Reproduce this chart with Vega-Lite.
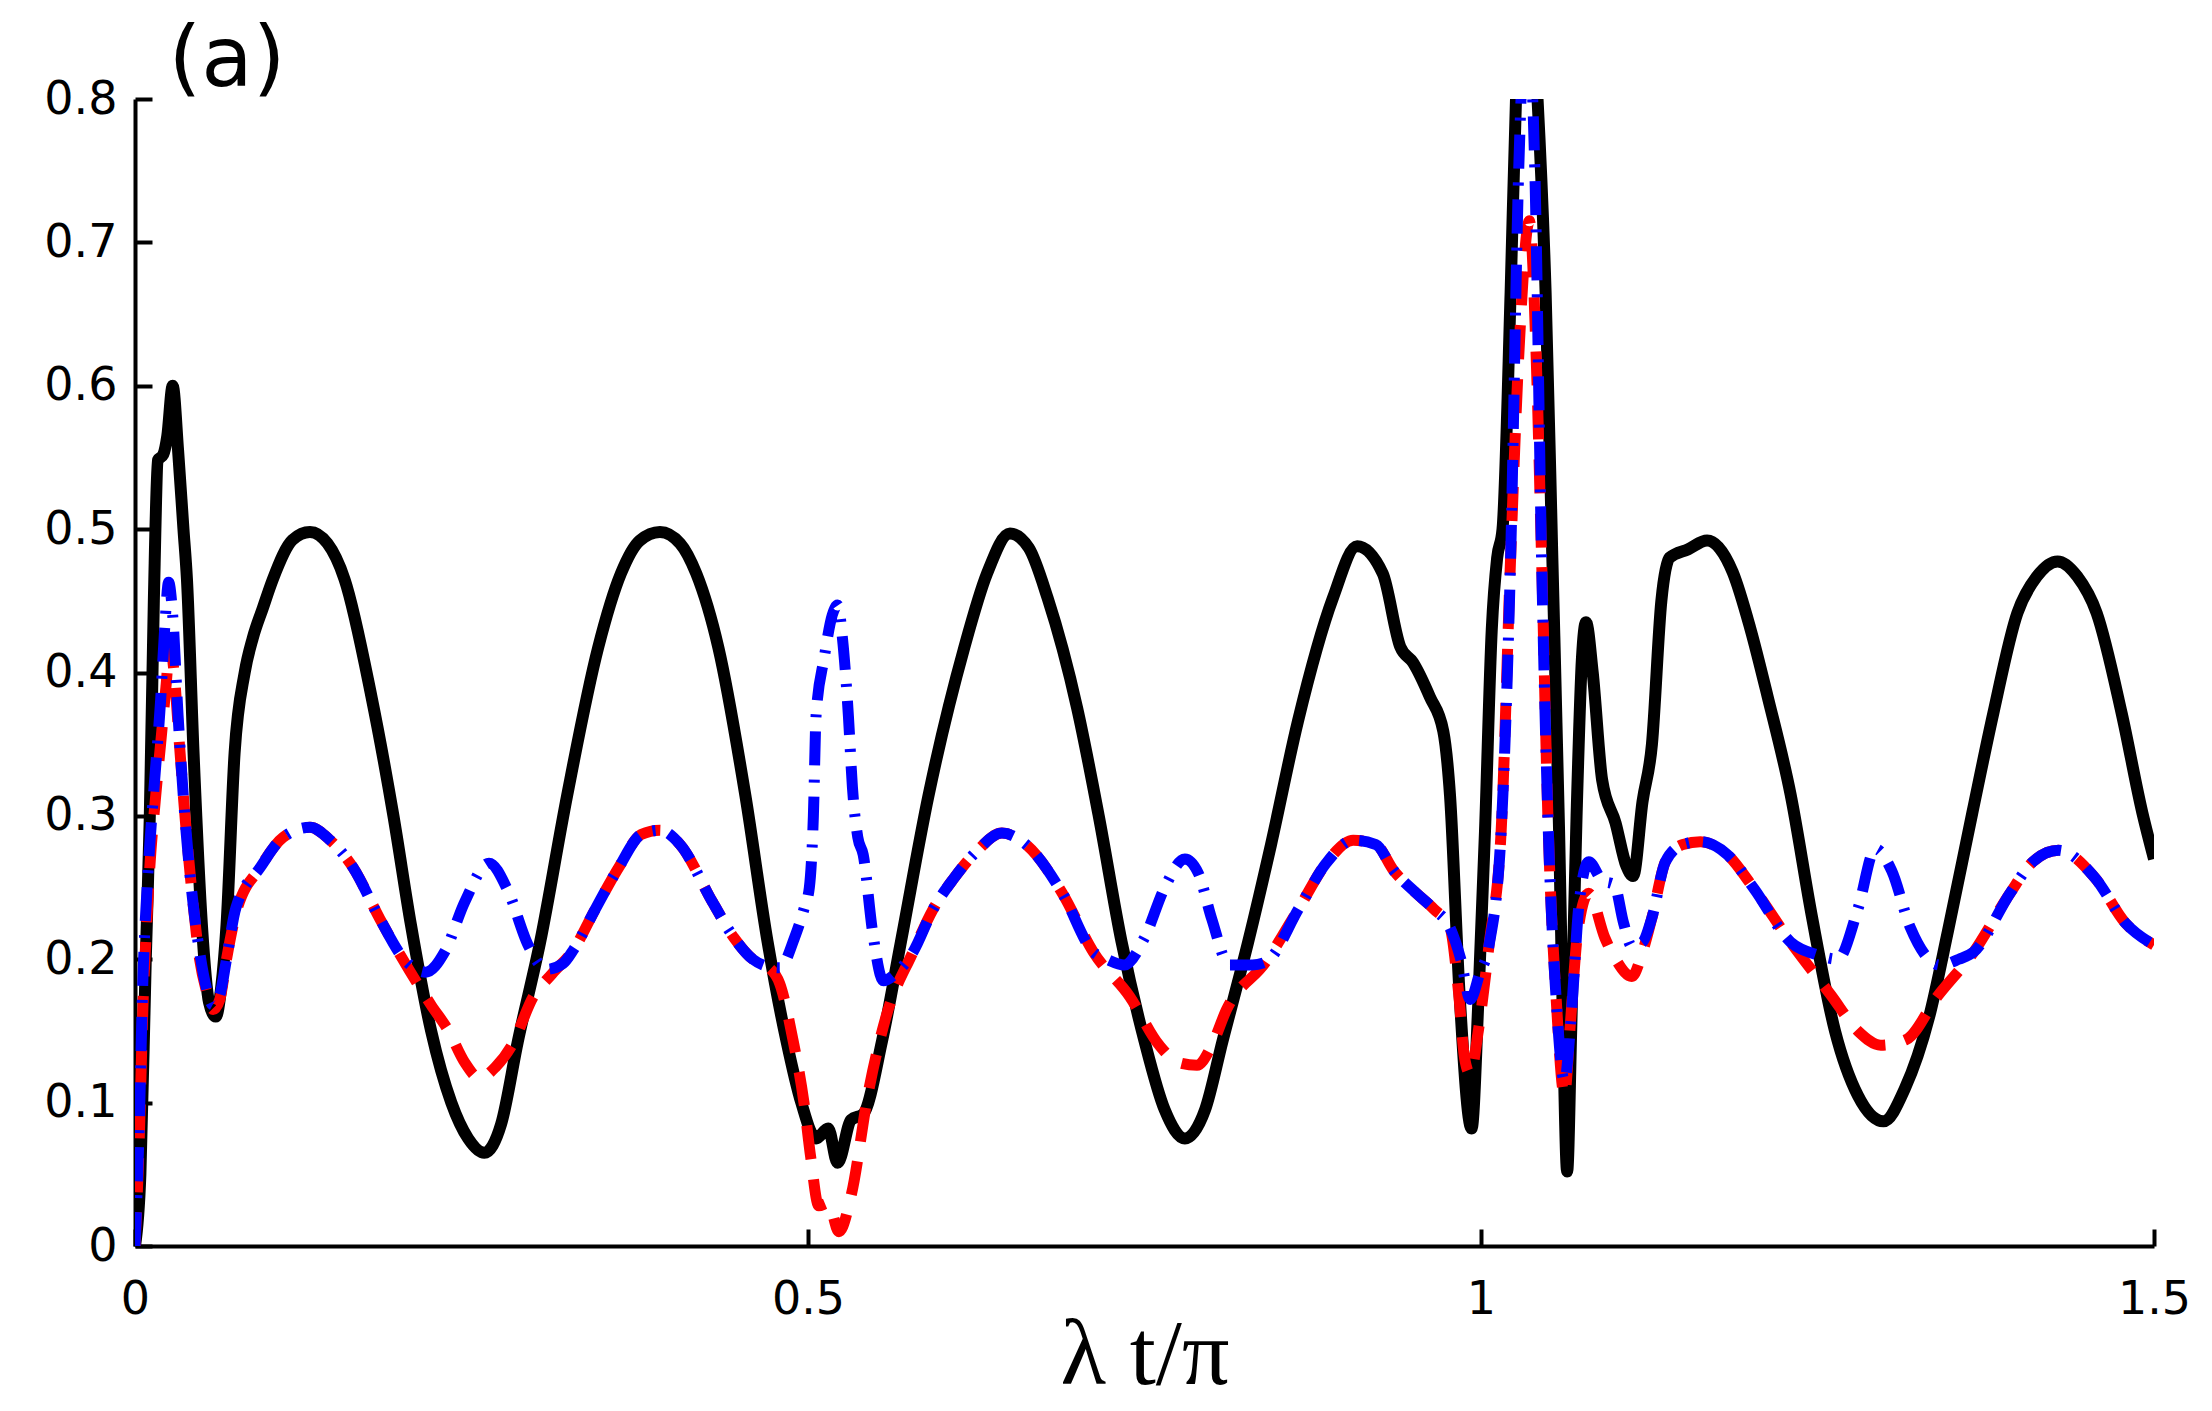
{
  "$schema": "https://vega.github.io/schema/vega-lite/v6.json",
  "width": 2019,
  "height": 1147,
  "autosize": "none",
  "padding": {"left": 135, "top": 99, "right": 58, "bottom": 165},
  "background": "white",
  "datasets": {
    "black": [
      {"t":0,"y":0},{"t":0.004,"y":0.05},{"t":0.008,"y":0.2},{"t":0.011,"y":0.3},{"t":0.014,"y":0.45},{"t":0.017,"y":0.548},{"t":0.021,"y":0.552},{"t":0.024,"y":0.565},{"t":0.028,"y":0.6},{"t":0.032,"y":0.555},{"t":0.036,"y":0.5},{"t":0.0386,"y":0.465},{"t":0.0435,"y":0.344},{"t":0.0497,"y":0.224},{"t":0.055,"y":0.17},{"t":0.06,"y":0.16},{"t":0.064,"y":0.18},{"t":0.068,"y":0.224},{"t":0.074,"y":0.344},{"t":0.0815,"y":0.4},{"t":0.0875,"y":0.424},{"t":0.095,"y":0.445},{"t":0.1024,"y":0.465},{"t":0.117,"y":0.4925},{"t":0.13,"y":0.498},{"t":0.143,"y":0.49},{"t":0.1557,"y":0.465},{"t":0.1755,"y":0.384},{"t":0.192,"y":0.3},{"t":0.205,"y":0.224},{"t":0.22,"y":0.15},{"t":0.235,"y":0.1},{"t":0.2475,"y":0.075},{"t":0.2595,"y":0.065},{"t":0.272,"y":0.085},{"t":0.2845,"y":0.143},{"t":0.301,"y":0.212},{"t":0.321,"y":0.314},{"t":0.344,"y":0.417},{"t":0.361,"y":0.469},{"t":0.375,"y":0.492},{"t":0.39,"y":0.498},{"t":0.405,"y":0.49},{"t":0.417,"y":0.469},{"t":0.4335,"y":0.417},{"t":0.4535,"y":0.314},{"t":0.47,"y":0.212},{"t":0.484,"y":0.143},{"t":0.495,"y":0.1},{"t":0.506,"y":0.075},{"t":0.515,"y":0.082},{"t":0.522,"y":0.058},{"t":0.532,"y":0.088},{"t":0.541,"y":0.092},{"t":0.555,"y":0.143},{"t":0.569,"y":0.212},{"t":0.5895,"y":0.314},{"t":0.616,"y":0.417},{"t":0.633,"y":0.469},{"t":0.65,"y":0.497},{"t":0.664,"y":0.487},{"t":0.678,"y":0.452},{"t":0.7,"y":0.375},{"t":0.716,"y":0.3},{"t":0.733,"y":0.212},{"t":0.75,"y":0.143},{"t":0.765,"y":0.095},{"t":0.78,"y":0.075},{"t":0.795,"y":0.095},{"t":0.808,"y":0.143},{"t":0.827,"y":0.212},{"t":0.844,"y":0.28},{"t":0.864,"y":0.366},{"t":0.89,"y":0.452},{"t":0.908,"y":0.488},{"t":0.927,"y":0.469},{"t":0.94,"y":0.418},{"t":0.9495,"y":0.407},{"t":0.962,"y":0.383},{"t":0.972,"y":0.359},{"t":0.977,"y":0.314},{"t":0.984,"y":0.177},{"t":0.993,"y":0.082},{"t":0.998,"y":0.17},{"t":1.003,"y":0.29},{"t":1.008,"y":0.43},{"t":1.012,"y":0.48},{"t":1.016,"y":0.5},{"t":1.022,"y":0.665},{"t":1.026,"y":0.8},{"t":1.034,"y":0.9},{"t":1.042,"y":0.8},{"t":1.048,"y":0.665},{"t":1.053,"y":0.48},{"t":1.058,"y":0.29},{"t":1.061,"y":0.15},{"t":1.064,"y":0.052},{"t":1.067,"y":0.15},{"t":1.071,"y":0.3},{"t":1.075,"y":0.41},{"t":1.078,"y":0.435},{"t":1.083,"y":0.4},{"t":1.09,"y":0.325},{"t":1.1,"y":0.295},{"t":1.108,"y":0.265},{"t":1.113,"y":0.258},{"t":1.12,"y":0.31},{"t":1.127,"y":0.35},{"t":1.134,"y":0.45},{"t":1.14,"y":0.48},{"t":1.154,"y":0.486},{"t":1.168,"y":0.492},{"t":1.187,"y":0.47},{"t":1.2,"y":0.431},{"t":1.213,"y":0.383},{"t":1.23,"y":0.315},{"t":1.246,"y":0.229},{"t":1.263,"y":0.15},{"t":1.28,"y":0.105},{"t":1.299,"y":0.087},{"t":1.315,"y":0.11},{"t":1.333,"y":0.16},{"t":1.347,"y":0.22},{"t":1.365,"y":0.302},{"t":1.3806,"y":0.3715},{"t":1.3985,"y":0.4415},{"t":1.413,"y":0.467},{"t":1.4284,"y":0.4775},{"t":1.443,"y":0.467},{"t":1.4574,"y":0.4415},{"t":1.476,"y":0.3715},{"t":1.4914,"y":0.302},{"t":1.5,"y":0.27}
    ],
    "red": [
      {"t":0,"y":0},{"t":0.003,"y":0.07},{"t":0.006,"y":0.17},{"t":0.009,"y":0.23},{"t":0.011,"y":0.264},{"t":0.015,"y":0.31},{"t":0.019,"y":0.35},{"t":0.023,"y":0.39},{"t":0.026,"y":0.42},{"t":0.029,"y":0.4},{"t":0.033,"y":0.35},{"t":0.038,"y":0.29},{"t":0.043,"y":0.24},{"t":0.048,"y":0.2},{"t":0.053,"y":0.178},{"t":0.058,"y":0.165},{"t":0.063,"y":0.172},{"t":0.068,"y":0.2},{"t":0.075,"y":0.232},{"t":0.093,"y":0.264},{"t":0.11,"y":0.285},{"t":0.13,"y":0.292},{"t":0.145,"y":0.283},{"t":0.162,"y":0.264},{"t":0.182,"y":0.228},{"t":0.204,"y":0.192},{"t":0.22,"y":0.168},{"t":0.233,"y":0.15},{"t":0.245,"y":0.128},{"t":0.256,"y":0.117},{"t":0.268,"y":0.125},{"t":0.28,"y":0.14},{"t":0.296,"y":0.174},{"t":0.31,"y":0.19},{"t":0.326,"y":0.207},{"t":0.342,"y":0.235},{"t":0.36,"y":0.265},{"t":0.376,"y":0.287},{"t":0.39,"y":0.29},{"t":0.405,"y":0.28},{"t":0.429,"y":0.24},{"t":0.445,"y":0.215},{"t":0.459,"y":0.2},{"t":0.47,"y":0.195},{"t":0.479,"y":0.183},{"t":0.489,"y":0.143},{"t":0.497,"y":0.1},{"t":0.502,"y":0.062},{"t":0.508,"y":0.028},{"t":0.515,"y":0.03},{"t":0.523,"y":0.01},{"t":0.532,"y":0.035},{"t":0.545,"y":0.108},{"t":0.558,"y":0.16},{"t":0.578,"y":0.205},{"t":0.593,"y":0.235},{"t":0.608,"y":0.256},{"t":0.625,"y":0.275},{"t":0.644,"y":0.288},{"t":0.662,"y":0.28},{"t":0.689,"y":0.246},{"t":0.712,"y":0.205},{"t":0.739,"y":0.174},{"t":0.761,"y":0.14},{"t":0.775,"y":0.128},{"t":0.789,"y":0.126},{"t":0.8,"y":0.14},{"t":0.811,"y":0.165},{"t":0.84,"y":0.198},{"t":0.865,"y":0.236},{"t":0.885,"y":0.267},{"t":0.905,"y":0.283},{"t":0.922,"y":0.28},{"t":0.935,"y":0.262},{"t":0.952,"y":0.246},{"t":0.965,"y":0.235},{"t":0.977,"y":0.222},{"t":0.983,"y":0.18},{"t":0.988,"y":0.13},{"t":0.992,"y":0.12},{"t":0.998,"y":0.15},{"t":1.006,"y":0.21},{"t":1.015,"y":0.29},{"t":1.022,"y":0.48},{"t":1.028,"y":0.62},{"t":1.036,"y":0.715},{"t":1.041,"y":0.62},{"t":1.045,"y":0.48},{"t":1.05,"y":0.29},{"t":1.056,"y":0.17},{"t":1.062,"y":0.105},{"t":1.066,"y":0.15},{"t":1.072,"y":0.22},{"t":1.08,"y":0.246},{"t":1.092,"y":0.215},{"t":1.1,"y":0.2},{"t":1.112,"y":0.188},{"t":1.12,"y":0.205},{"t":1.127,"y":0.229},{"t":1.137,"y":0.268},{"t":1.15,"y":0.28},{"t":1.163,"y":0.282},{"t":1.183,"y":0.273},{"t":1.203,"y":0.249},{"t":1.23,"y":0.212},{"t":1.26,"y":0.175},{"t":1.28,"y":0.15},{"t":1.297,"y":0.14},{"t":1.316,"y":0.144},{"t":1.339,"y":0.174},{"t":1.366,"y":0.205},{"t":1.393,"y":0.246},{"t":1.41,"y":0.268},{"t":1.429,"y":0.276},{"t":1.456,"y":0.257},{"t":1.479,"y":0.225},{"t":1.5,"y":0.21}
    ],
    "blue": [
      {"t":0,"y":0},{"t":0.003,"y":0.08},{"t":0.006,"y":0.19},{"t":0.009,"y":0.25},{"t":0.011,"y":0.28},{"t":0.015,"y":0.33},{"t":0.019,"y":0.38},{"t":0.022,"y":0.43},{"t":0.025,"y":0.463},{"t":0.028,"y":0.44},{"t":0.032,"y":0.37},{"t":0.037,"y":0.3},{"t":0.043,"y":0.24},{"t":0.048,"y":0.205},{"t":0.053,"y":0.18},{"t":0.058,"y":0.168},{"t":0.063,"y":0.175},{"t":0.068,"y":0.2},{"t":0.075,"y":0.236},{"t":0.093,"y":0.264},{"t":0.11,"y":0.285},{"t":0.13,"y":0.292},{"t":0.145,"y":0.283},{"t":0.162,"y":0.264},{"t":0.182,"y":0.228},{"t":0.2,"y":0.2},{"t":0.216,"y":0.191},{"t":0.23,"y":0.205},{"t":0.245,"y":0.24},{"t":0.263,"y":0.267},{"t":0.277,"y":0.248},{"t":0.292,"y":0.21},{"t":0.306,"y":0.193},{"t":0.318,"y":0.197},{"t":0.326,"y":0.207},{"t":0.342,"y":0.235},{"t":0.36,"y":0.265},{"t":0.376,"y":0.287},{"t":0.39,"y":0.29},{"t":0.405,"y":0.28},{"t":0.429,"y":0.24},{"t":0.445,"y":0.215},{"t":0.459,"y":0.2},{"t":0.47,"y":0.195},{"t":0.479,"y":0.194},{"t":0.49,"y":0.215},{"t":0.497,"y":0.235},{"t":0.501,"y":0.25},{"t":0.504,"y":0.3},{"t":0.506,"y":0.37},{"t":0.512,"y":0.41},{"t":0.518,"y":0.44},{"t":0.522,"y":0.447},{"t":0.526,"y":0.42},{"t":0.53,"y":0.37},{"t":0.533,"y":0.32},{"t":0.537,"y":0.285},{"t":0.541,"y":0.273},{"t":0.548,"y":0.219},{"t":0.556,"y":0.185},{"t":0.565,"y":0.19},{"t":0.578,"y":0.205},{"t":0.593,"y":0.235},{"t":0.608,"y":0.256},{"t":0.625,"y":0.275},{"t":0.644,"y":0.288},{"t":0.662,"y":0.28},{"t":0.689,"y":0.246},{"t":0.712,"y":0.205},{"t":0.722,"y":0.2},{"t":0.735,"y":0.196},{"t":0.75,"y":0.215},{"t":0.765,"y":0.25},{"t":0.78,"y":0.27},{"t":0.79,"y":0.26},{"t":0.8,"y":0.228},{"t":0.813,"y":0.196},{"t":0.83,"y":0.196},{"t":0.84,"y":0.198},{"t":0.865,"y":0.236},{"t":0.885,"y":0.267},{"t":0.905,"y":0.283},{"t":0.922,"y":0.28},{"t":0.935,"y":0.262},{"t":0.952,"y":0.246},{"t":0.965,"y":0.235},{"t":0.977,"y":0.222},{"t":0.985,"y":0.2},{"t":0.992,"y":0.172},{"t":0.999,"y":0.19},{"t":1.006,"y":0.21},{"t":1.015,"y":0.29},{"t":1.022,"y":0.48},{"t":1.028,"y":0.75},{"t":1.034,"y":0.86},{"t":1.04,"y":0.75},{"t":1.045,"y":0.48},{"t":1.05,"y":0.29},{"t":1.056,"y":0.17},{"t":1.062,"y":0.115},{"t":1.067,"y":0.16},{"t":1.073,"y":0.24},{"t":1.08,"y":0.268},{"t":1.09,"y":0.255},{"t":1.099,"y":0.252},{"t":1.106,"y":0.225},{"t":1.112,"y":0.209},{"t":1.12,"y":0.212},{"t":1.127,"y":0.229},{"t":1.137,"y":0.268},{"t":1.15,"y":0.28},{"t":1.163,"y":0.282},{"t":1.183,"y":0.273},{"t":1.203,"y":0.249},{"t":1.23,"y":0.212},{"t":1.25,"y":0.203},{"t":1.265,"y":0.2},{"t":1.28,"y":0.235},{"t":1.293,"y":0.277},{"t":1.305,"y":0.262},{"t":1.319,"y":0.222},{"t":1.341,"y":0.196},{"t":1.355,"y":0.2},{"t":1.366,"y":0.205},{"t":1.393,"y":0.246},{"t":1.41,"y":0.268},{"t":1.429,"y":0.276},{"t":1.456,"y":0.257},{"t":1.479,"y":0.225},{"t":1.5,"y":0.21}
    ]
  },
  "encoding": {
    "x": {
      "field": "t",
      "type": "quantitative",
      "scale": {"domain": [0, 1.5], "nice": false, "zero": false},
      "axis": {
        "title": "λ t/π",
        "values": [0, 0.5, 1, 1.5],
        "format": "~g",
        "grid": false,
        "tickSize": -17,
        "tickWidth": 4,
        "tickColor": "black",
        "domainWidth": 4,
        "domainColor": "black",
        "labelFont": "DejaVu Sans",
        "labelFontSize": 46,
        "labelColor": "black",
        "labelPadding": 48,
        "labelFlush": false,
        "labelOverlap": false,
        "titleFont": "Liberation Serif",
        "titleFontSize": 94,
        "titleFontWeight": "normal",
        "titleColor": "black",
        "titleBaseline": "alphabetic",
        "titleY": 137
      }
    },
    "y": {
      "field": "y",
      "type": "quantitative",
      "scale": {"domain": [0, 0.8], "nice": false},
      "axis": {
        "title": "(a)",
        "titleAngle": 0,
        "titleAlign": "left",
        "titleBaseline": "alphabetic",
        "titleX": 33,
        "titleY": -14,
        "titlePadding": 0,
        "titleFont": "DejaVu Sans",
        "titleFontSize": 84,
        "titleFontWeight": "normal",
        "titleColor": "black",
        "values": [0, 0.1, 0.2, 0.3, 0.4, 0.5, 0.6, 0.7, 0.8],
        "format": "~g",
        "grid": false,
        "tickSize": -17,
        "tickWidth": 4,
        "tickColor": "black",
        "domainWidth": 4,
        "domainColor": "black",
        "labelFont": "DejaVu Sans",
        "labelFontSize": 46,
        "labelColor": "black",
        "labelPadding": 35,
        "labelFlush": false,
        "labelOverlap": false
      }
    }
  },
  "layer": [
    {
      "data": {"name": "black"},
      "mark": {"type": "line", "color": "#000000", "strokeWidth": 12, "clip": true, "interpolate": "monotone", "strokeJoin": "round"}
    },
    {
      "data": {"name": "red"},
      "mark": {"type": "line", "color": "#ff0000", "strokeWidth": 11, "clip": true, "interpolate": "monotone", "strokeDash": [34, 20], "strokeCap": "butt"}
    },
    {
      "data": {"name": "blue"},
      "mark": {"type": "line", "color": "#0000ff", "strokeWidth": 11, "clip": true, "interpolate": "monotone", "strokeDash": [34, 14, 3, 14], "strokeCap": "butt"}
    }
  ],
  "config": {"view": {"stroke": null}}
}
